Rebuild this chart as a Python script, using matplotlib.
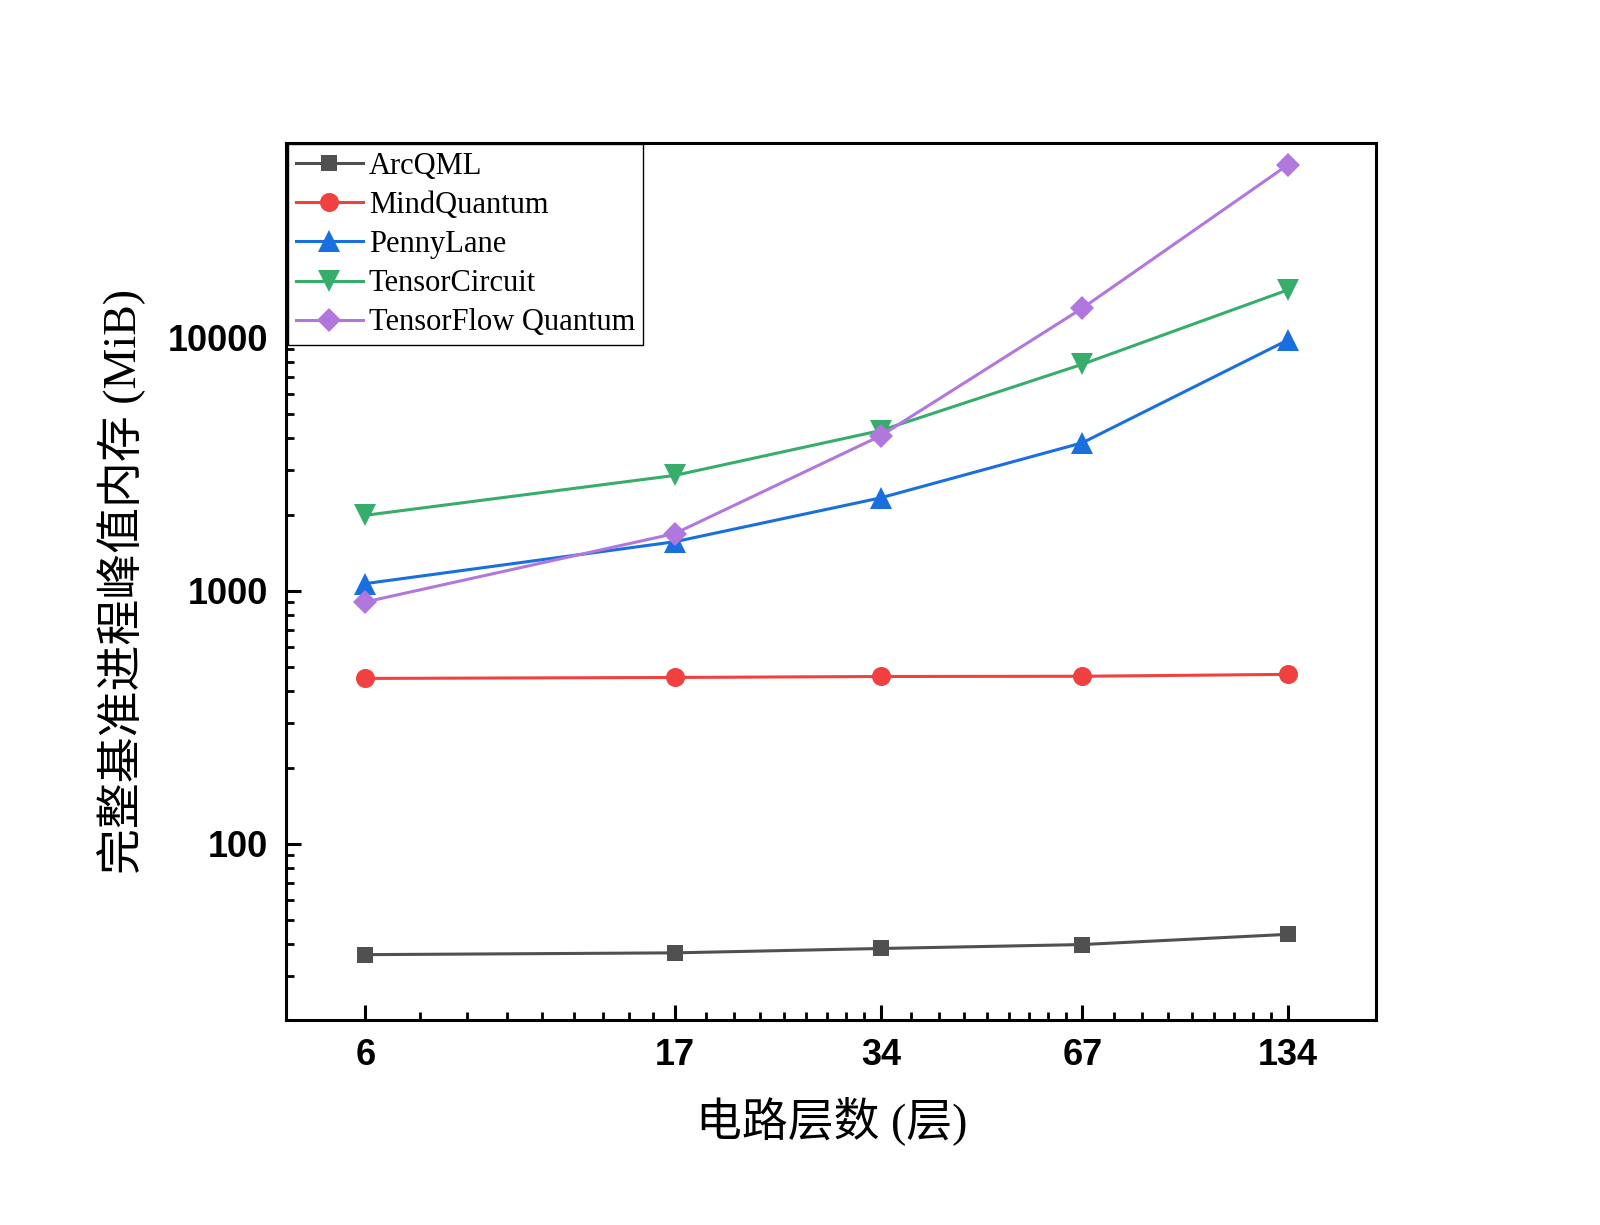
import numpy as np
import matplotlib
matplotlib.use("Agg")
import matplotlib.pyplot as plt
from matplotlib import font_manager
from matplotlib.ticker import FixedLocator, LogLocator, NullFormatter, FixedFormatter

layers = [6, 17, 34, 67, 134]
layer_labels = ["6", "17", "34", "67", "134"]
arcqml = [36.4, 37.0, 38.5, 39.9, 43.8]
mindquantum = [450, 454, 458, 459, 467]
pennylane = [1067, 1562, 2330, 3845, 9820]
tensorcircuit = [1987, 2857, 4300, 7860, 15490]
tfq = [903, 1683, 4100, 13090, 48400]

series = [
    ("ArcQML", arcqml, "#505050", "s", 12),
    ("MindQuantum", mindquantum, "#f04040", "o", 13.7),
    ("PennyLane", pennylane, "#1a6fdf", "^", 16),
    ("TensorCircuit", tensorcircuit, "#37ad6b", "v", 16),
    ("TensorFlow Quantum", tfq, "#b177de", "D", 12),
]

try:
    font_manager.findfont(font_manager.FontProperties(family="Liberation Sans Narrow"),
                          fallback_to_default=False)
    tick_family, tick_size = "Liberation Sans Narrow", 30
except Exception:
    tick_family, tick_size = "Liberation Sans", 26

fig = plt.figure(figsize=(16, 12.25), dpi=100)
ax = fig.add_axes([0.179, 0.167, 0.681, 0.7164])

for name, vals, col, mk, ms in series:
    ax.plot(layers, vals, color=col, marker=mk, markersize=ms, linewidth=2.2,
            label=name, markeredgewidth=0)

ax.set_xscale("log")
ax.set_yscale("log")
ax.set_xlim(4.6, 180)
ax.set_ylim(20, 59000)

ax.xaxis.set_major_locator(FixedLocator(layers))
ax.xaxis.set_major_formatter(FixedFormatter(layer_labels))
minors = []
for a, b in zip(layers[:-1], layers[1:]):
    step = (b - a) / 9.0
    minors.extend([a + step * k for k in range(1, 9)])
ax.xaxis.set_minor_locator(FixedLocator(minors))
ax.xaxis.set_minor_formatter(NullFormatter())

ax.yaxis.set_major_locator(FixedLocator([100, 1000, 10000]))
ax.yaxis.set_major_formatter(FixedFormatter(["100", "1000", "10000"]))
ax.yaxis.set_minor_locator(LogLocator(base=10, subs=np.arange(2, 10)))
ax.yaxis.set_minor_formatter(NullFormatter())

for s in ax.spines.values():
    s.set_linewidth(2.2)

ax.tick_params(which="major", direction="in", length=11, width=2.2, pad=13,
               labelsize=tick_size)
ax.tick_params(which="minor", direction="in", length=5.5, width=2.0)
for lab in ax.get_xticklabels() + ax.get_yticklabels():
    lab.set_family(tick_family)
    lab.set_weight("bold")

ax.set_xlabel("电路层数 (层)", fontsize=33, family=["Liberation Serif", "Noto Sans CJK SC"], labelpad=16)
ax.set_ylabel("完整基准进程峰值内存 (MiB)", fontsize=33, family=["Liberation Serif", "Noto Sans CJK SC"], labelpad=16)

leg = ax.legend(loc="upper left", borderaxespad=0.05, fancybox=False, framealpha=1,
                edgecolor="black", prop={"family": "Liberation Serif", "size": 22},
                handlelength=2.2, handletextpad=0.2, labelspacing=0.33, borderpad=0.25)
leg.get_frame().set_linewidth(1.0)

fig.savefig("out.png", dpi=100)
